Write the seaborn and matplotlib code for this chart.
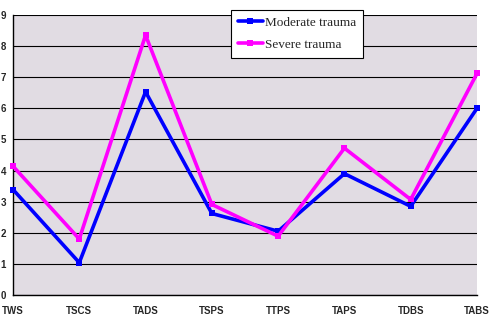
import matplotlib
matplotlib.use("Agg")
import matplotlib.pyplot as plt
import seaborn as sns
import pandas as pd

categories = ["TWS", "TSCS", "TADS", "TSPS", "TTPS", "TAPS", "TDBS", "TABS"]
moderate = [3.39, 1.04, 6.53, 2.62, 2.05, 3.9, 2.85, 6.0]
severe = [4.14, 1.8, 8.35, 2.91, 1.89, 4.72, 3.07, 7.12]
yticks = list(range(0, 10))

df = pd.DataFrame({
    "cat": categories * 2,
    "value": moderate + severe,
    "series": ["Moderate trauma"] * len(categories) + ["Severe trauma"] * len(categories),
})

sns.set_style("white")
fig = plt.figure(figsize=(4.95, 3.27), dpi=100)
ax = fig.add_axes([13 / 495, 1 - 295 / 327, (477 - 13) / 495, (295 - 15) / 327])
ax.set_facecolor("#E1DCE3")

sns.lineplot(data=df, x="cat", y="value", hue="series", sort=False,
             palette={"Moderate trauma": "#0000FF", "Severe trauma": "#FF00FF"},
             marker="s", markersize=5, markeredgewidth=0, linewidth=2.6, ax=ax,
             legend=True, zorder=3, clip_on=False)

ax.set_xlim(0, 7)
ax.set_ylim(0, 9)
ax.set_yticks(yticks)
ax.set_yticklabels([str(t) for t in yticks])
ax.yaxis.grid(True, color="black", linewidth=0.8)
ax.set_axisbelow(True)
ax.set_xlabel("")
ax.set_ylabel("")
for s in ["top", "right"]:
    ax.spines[s].set_visible(False)
for s in ["left", "bottom"]:
    ax.spines[s].set_color("black")
    ax.spines[s].set_linewidth(1.0)
ax.tick_params(axis="both", which="both", direction="out", length=3, width=0.8,
               color="black", labelsize=7, pad=2)
ax.tick_params(axis="x", pad=5)
for lab in ax.get_xticklabels() + ax.get_yticklabels():
    lab.set_fontfamily("Liberation Sans")
    lab.set_fontweight("bold")

handles, labels = ax.get_legend_handles_labels()
leg = ax.legend(handles, labels, loc="upper left",
                bbox_to_anchor=(231 / 495, 1 - 10 / 327), bbox_transform=fig.transFigure,
                frameon=True, fancybox=False, framealpha=1, edgecolor="black",
                prop={"family": "Liberation Serif", "size": 9.5},
                handlelength=1.9, handletextpad=0.2, borderpad=0.5, labelspacing=0.75,
                borderaxespad=0)
leg.get_frame().set_linewidth(0.8)
leg.set_zorder(5)

fig.savefig("out.png", dpi=100, facecolor="white")
